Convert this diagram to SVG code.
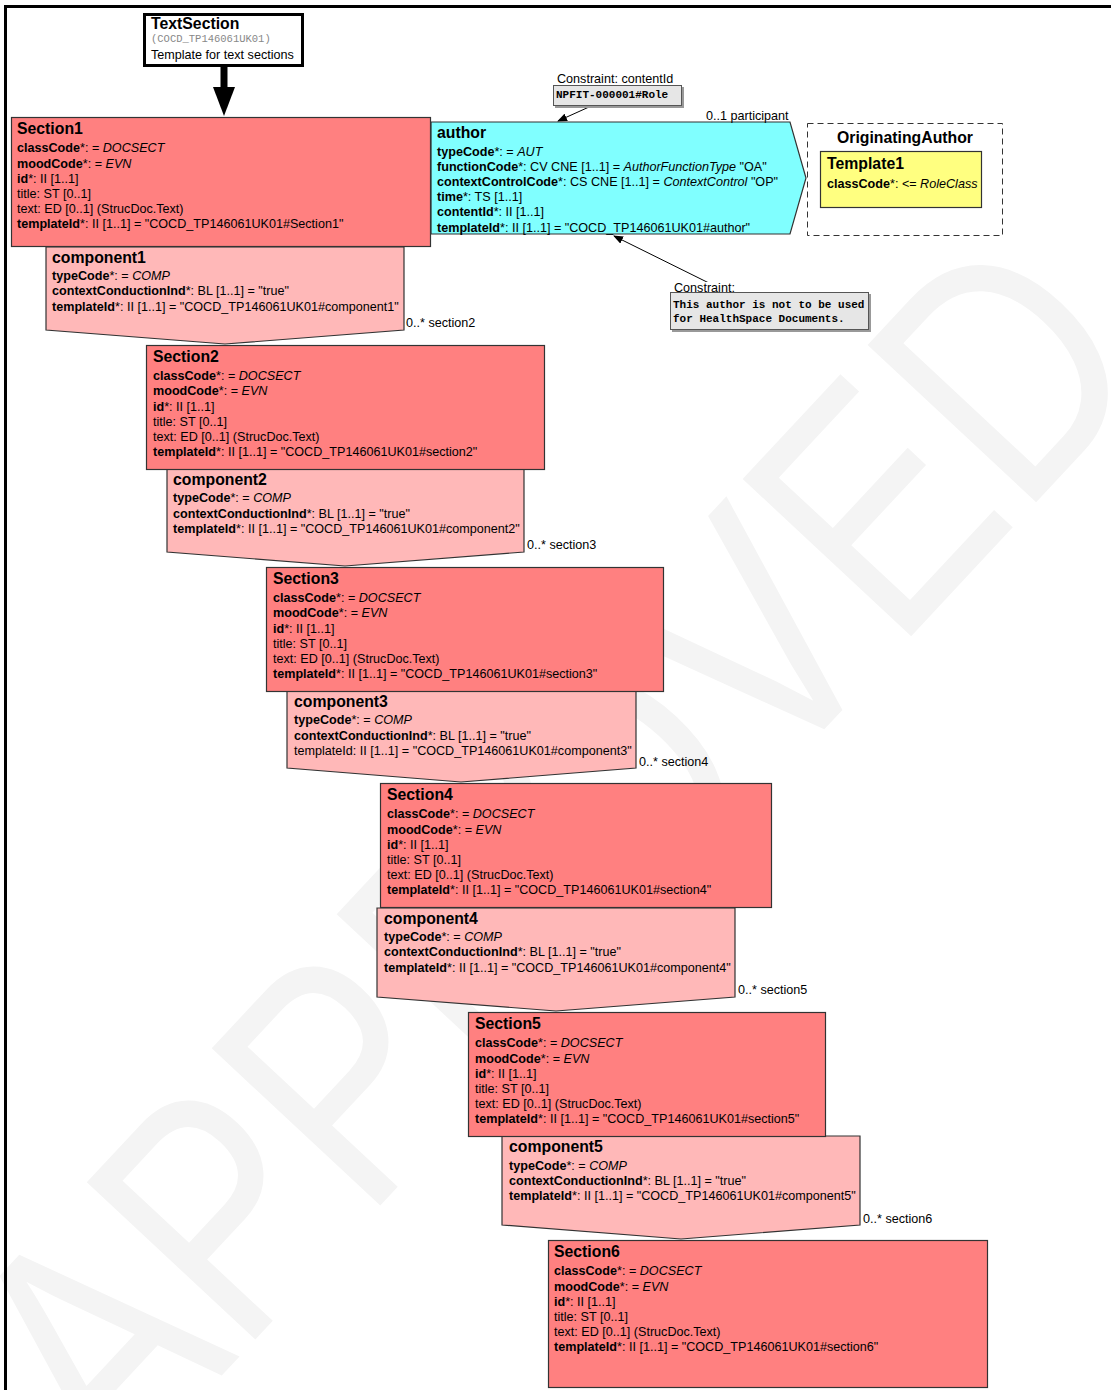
<svg xmlns="http://www.w3.org/2000/svg" width="1111" height="1390" viewBox="0 0 1111 1390">
<style>
.t{font-family:"Liberation Sans",Arial,sans-serif;font-size:12.6px;fill:#000}
.h{font-weight:bold;font-size:15.8px}
.b{font-weight:bold}
.i{font-style:italic}
.m{font-family:"Liberation Mono","Courier New",monospace;font-size:11px;font-weight:bold;fill:#000}
.sec{fill:#ff8080;stroke:#333;stroke-width:1.2}
.comp{fill:#ffb8b8;stroke:#333;stroke-width:1.2}
.con{fill:#e6e6e6;stroke:#555;stroke-width:1}
.sh{fill:#999}
.wm{font-family:"Liberation Sans",Arial,sans-serif;font-size:335px;fill:#f4f4f4}
</style>
<defs>
<marker id="ah" markerWidth="10" markerHeight="8" refX="9" refY="4" orient="auto" markerUnits="userSpaceOnUse">
<path d="M0,0 L10,4 L0,8 z" fill="#000"/>
</marker>
</defs>
<rect width="1111" height="1390" fill="#fff"/>
<text class="wm" transform="translate(115,1490) rotate(-47) scale(0.82,1)">APPROVED</text>
<g id="frame" fill="none" stroke="#000" stroke-width="3">
<line x1="4" y1="6.5" x2="1111" y2="6.5"/>
<line x1="5.5" y1="5" x2="5.5" y2="1390"/>
</g>

<g id="connectors">
<line x1="224" y1="67" x2="224" y2="88" stroke="#000" stroke-width="7"/>
<polygon points="213,87 235,87 224,116" fill="#000"/>
<line x1="589" y1="107" x2="558" y2="121" stroke="#000" stroke-width="1" marker-end="url(#ah)"/>
<line x1="717" y1="287" x2="614" y2="236" stroke="#000" stroke-width="1" marker-end="url(#ah)"/>
</g>

<g id="TextSection">
<rect x="144.5" y="14.5" width="158" height="51" fill="#fff" stroke="#000" stroke-width="3"/>
<text class="t h" x="151" y="29">TextSection</text>
<text x="151" y="42" font-family="Liberation Mono,Courier New,monospace" font-size="10.5" fill="#888">(COCD_TP146061UK01)</text>
<text class="t" x="151" y="59">Template for text sections</text>
</g>

<g id="author">
<polygon points="431,122 790,122 806,178 790,234 431,234" fill="#80ffff" stroke="#333" stroke-width="1.2"/>
<text class="t h" x="437" y="138">author</text>
<text class="t" x="437" y="156"><tspan class="b">typeCode</tspan>*: = <tspan class="i">AUT</tspan></text>
<text class="t" x="437" y="171"><tspan class="b">functionCode</tspan>*: CV CNE [1..1] = <tspan class="i">AuthorFunctionType</tspan> "OA"</text>
<text class="t" x="437" y="186"><tspan class="b">contextControlCode</tspan>*: CS CNE [1..1] = <tspan class="i">ContextControl</tspan> "OP"</text>
<text class="t" x="437" y="201"><tspan class="b">time</tspan>*: TS [1..1]</text>
<text class="t" x="437" y="216"><tspan class="b">contentId</tspan>*: II [1..1]</text>
<text class="t" x="437" y="232"><tspan class="b">templateId</tspan>*: II [1..1] = "COCD_TP146061UK01#author"</text>
<text class="t" x="706" y="120">0..1 participant</text>
</g>

<g id="OriginatingAuthor">
<rect x="807.5" y="123.5" width="195" height="112" fill="#fff" stroke="#333" stroke-width="1" stroke-dasharray="6,4"/>
<text class="t h" x="905" y="143" text-anchor="middle">OriginatingAuthor</text>
</g>
<g id="Template1">
<rect x="820.5" y="151.5" width="161" height="56" fill="#ffff80" stroke="#333" stroke-width="1.2"/>
<text class="t h" x="827" y="169">Template1</text>
<text class="t" x="827" y="188"><tspan class="b">classCode</tspan>*: &lt;= <tspan class="i">RoleClass</tspan></text>
</g>

<g id="constraint-contentId">
<rect class="sh" x="555" y="87" width="129" height="21"/>
<rect class="con" x="553.5" y="85.5" width="128" height="20"/>
<rect x="556" y="73" width="121" height="12" fill="#fff"/>
<text class="t" x="557" y="83">Constraint: contentId</text>
<text class="m" x="556" y="98">NPFIT-000001#Role</text>
</g>

<g id="constraint-author">
<rect class="sh" x="672" y="294" width="199" height="38"/>
<rect class="con" x="670.5" y="292.5" width="198" height="37"/>
<rect x="673" y="282" width="66" height="10" fill="#fff"/>
<text class="t" x="674" y="292">Constraint:</text>
<text class="m" x="673" y="308">This author is not to be used</text>
<text class="m" x="673" y="322">for HealthSpace Documents.</text>
</g>

<g id="component1">
<polygon class="comp" points="46,247 404,247 404,330 225,344 46,330"/>
<text class="t h" x="52" y="263">component1</text>
<text class="t" x="52" y="280"><tspan class="b">typeCode</tspan>*: = <tspan class="i">COMP</tspan></text>
<text class="t" x="52" y="295"><tspan class="b">contextConductionInd</tspan>*: BL [1..1] = "true"</text>
<text class="t" x="52" y="311"><tspan class="b">templateId</tspan>*: II [1..1] = "COCD_TP146061UK01#component1"</text>
<text class="t" x="406" y="327">0..* section2</text>
</g>

<g id="Section1">
<rect class="sec" x="11.5" y="117.5" width="419" height="129"/>
<text class="t h" x="17" y="134">Section1</text>
<text class="t" x="17" y="152"><tspan class="b">classCode</tspan>*: = <tspan class="i">DOCSECT</tspan></text>
<text class="t" x="17" y="168"><tspan class="b">moodCode</tspan>*: = <tspan class="i">EVN</tspan></text>
<text class="t" x="17" y="183"><tspan class="b">id</tspan>*: II [1..1]</text>
<text class="t" x="17" y="198">title: ST [0..1]</text>
<text class="t" x="17" y="213">text: ED [0..1] (StrucDoc.Text)</text>
<text class="t" x="17" y="228"><tspan class="b">templateId</tspan>*: II [1..1] = "COCD_TP146061UK01#Section1"</text>
</g>

<g id="component2">
<polygon class="comp" points="167,469 524,469 524,552 345,566 167,552"/>
<text class="t h" x="173" y="485">component2</text>
<text class="t" x="173" y="502"><tspan class="b">typeCode</tspan>*: = <tspan class="i">COMP</tspan></text>
<text class="t" x="173" y="518"><tspan class="b">contextConductionInd</tspan>*: BL [1..1] = "true"</text>
<text class="t" x="173" y="533"><tspan class="b">templateId</tspan>*: II [1..1] = "COCD_TP146061UK01#component2"</text>
<text class="t" x="527" y="549">0..* section3</text>
</g>

<g id="Section2">
<rect class="sec" x="146.5" y="345.5" width="398" height="124"/>
<text class="t h" x="153" y="362">Section2</text>
<text class="t" x="153" y="380"><tspan class="b">classCode</tspan>*: = <tspan class="i">DOCSECT</tspan></text>
<text class="t" x="153" y="395"><tspan class="b">moodCode</tspan>*: = <tspan class="i">EVN</tspan></text>
<text class="t" x="153" y="411"><tspan class="b">id</tspan>*: II [1..1]</text>
<text class="t" x="153" y="426">title: ST [0..1]</text>
<text class="t" x="153" y="441">text: ED [0..1] (StrucDoc.Text)</text>
<text class="t" x="153" y="456"><tspan class="b">templateId</tspan>*: II [1..1] = "COCD_TP146061UK01#section2"</text>
</g>

<g id="component3">
<polygon class="comp" points="287,691 636,691 636,768 461,782 287,768"/>
<text class="t h" x="294" y="707">component3</text>
<text class="t" x="294" y="724"><tspan class="b">typeCode</tspan>*: = <tspan class="i">COMP</tspan></text>
<text class="t" x="294" y="740"><tspan class="b">contextConductionInd</tspan>*: BL [1..1] = "true"</text>
<text class="t" x="294" y="755">templateId: II [1..1] = "COCD_TP146061UK01#component3"</text>
<text class="t" x="639" y="766">0..* section4</text>
</g>

<g id="Section3">
<rect class="sec" x="266.5" y="567.5" width="397" height="124"/>
<text class="t h" x="273" y="584">Section3</text>
<text class="t" x="273" y="602"><tspan class="b">classCode</tspan>*: = <tspan class="i">DOCSECT</tspan></text>
<text class="t" x="273" y="617"><tspan class="b">moodCode</tspan>*: = <tspan class="i">EVN</tspan></text>
<text class="t" x="273" y="633"><tspan class="b">id</tspan>*: II [1..1]</text>
<text class="t" x="273" y="648">title: ST [0..1]</text>
<text class="t" x="273" y="663">text: ED [0..1] (StrucDoc.Text)</text>
<text class="t" x="273" y="678"><tspan class="b">templateId</tspan>*: II [1..1] = "COCD_TP146061UK01#section3"</text>
</g>

<g id="component4">
<polygon class="comp" points="377,908 735,908 735,997 556,1011 377,997"/>
<text class="t h" x="384" y="924">component4</text>
<text class="t" x="384" y="941"><tspan class="b">typeCode</tspan>*: = <tspan class="i">COMP</tspan></text>
<text class="t" x="384" y="956"><tspan class="b">contextConductionInd</tspan>*: BL [1..1] = "true"</text>
<text class="t" x="384" y="972"><tspan class="b">templateId</tspan>*: II [1..1] = "COCD_TP146061UK01#component4"</text>
<text class="t" x="738" y="994">0..* section5</text>
</g>

<g id="Section4">
<rect class="sec" x="380.5" y="783.5" width="391" height="124"/>
<text class="t h" x="387" y="800">Section4</text>
<text class="t" x="387" y="818"><tspan class="b">classCode</tspan>*: = <tspan class="i">DOCSECT</tspan></text>
<text class="t" x="387" y="834"><tspan class="b">moodCode</tspan>*: = <tspan class="i">EVN</tspan></text>
<text class="t" x="387" y="849"><tspan class="b">id</tspan>*: II [1..1]</text>
<text class="t" x="387" y="864">title: ST [0..1]</text>
<text class="t" x="387" y="879">text: ED [0..1] (StrucDoc.Text)</text>
<text class="t" x="387" y="894"><tspan class="b">templateId</tspan>*: II [1..1] = "COCD_TP146061UK01#section4"</text>
</g>

<g id="component5">
<polygon class="comp" points="502,1136 860,1136 860,1225 681,1239 502,1225"/>
<text class="t h" x="509" y="1152">component5</text>
<text class="t" x="509" y="1170"><tspan class="b">typeCode</tspan>*: = <tspan class="i">COMP</tspan></text>
<text class="t" x="509" y="1185"><tspan class="b">contextConductionInd</tspan>*: BL [1..1] = "true"</text>
<text class="t" x="509" y="1200"><tspan class="b">templateId</tspan>*: II [1..1] = "COCD_TP146061UK01#component5"</text>
<text class="t" x="863" y="1223">0..* section6</text>
</g>

<g id="Section5">
<rect class="sec" x="468.5" y="1012.5" width="357" height="124"/>
<text class="t h" x="475" y="1029">Section5</text>
<text class="t" x="475" y="1047"><tspan class="b">classCode</tspan>*: = <tspan class="i">DOCSECT</tspan></text>
<text class="t" x="475" y="1063"><tspan class="b">moodCode</tspan>*: = <tspan class="i">EVN</tspan></text>
<text class="t" x="475" y="1078"><tspan class="b">id</tspan>*: II [1..1]</text>
<text class="t" x="475" y="1093">title: ST [0..1]</text>
<text class="t" x="475" y="1108">text: ED [0..1] (StrucDoc.Text)</text>
<text class="t" x="475" y="1123"><tspan class="b">templateId</tspan>*: II [1..1] = "COCD_TP146061UK01#section5"</text>
</g>

<g id="Section6">
<rect class="sec" x="548.5" y="1240.5" width="439" height="147"/>
<text class="t h" x="554" y="1257">Section6</text>
<text class="t" x="554" y="1275"><tspan class="b">classCode</tspan>*: = <tspan class="i">DOCSECT</tspan></text>
<text class="t" x="554" y="1291"><tspan class="b">moodCode</tspan>*: = <tspan class="i">EVN</tspan></text>
<text class="t" x="554" y="1306"><tspan class="b">id</tspan>*: II [1..1]</text>
<text class="t" x="554" y="1321">title: ST [0..1]</text>
<text class="t" x="554" y="1336">text: ED [0..1] (StrucDoc.Text)</text>
<text class="t" x="554" y="1351"><tspan class="b">templateId</tspan>*: II [1..1] = "COCD_TP146061UK01#section6"</text>
</g>
</svg>
